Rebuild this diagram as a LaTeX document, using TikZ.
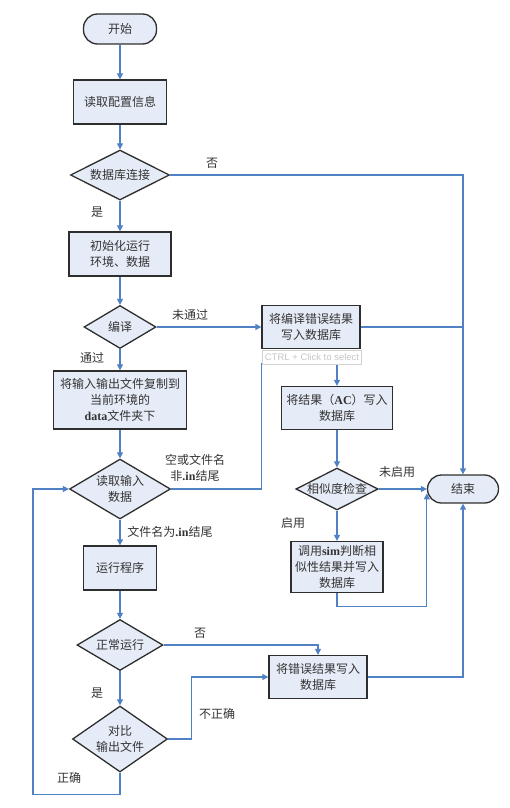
\documentclass[tikz,border=0pt]{standalone}
\usepackage{fontspec}
\setmainfont{Noto Sans CJK SC}
\newfontfamily\lat{Liberation Serif}
\newfontfamily\tipfont{Liberation Sans}
\usetikzlibrary{shapes.geometric,arrows.meta}
\definecolor{flow}{HTML}{4F81C4}
\definecolor{boxfill}{HTML}{E6ECF7}
\definecolor{boxline}{HTML}{2E2E2E}
\definecolor{txt}{HTML}{333333}

\begin{document}
\begin{tikzpicture}[x=1pt,y=-1pt,
  every node/.style={font=\fontsize{12}{16}\selectfont, text=txt},
  proc/.style={draw=boxline, line width=1.3pt, fill=boxfill, align=center, inner sep=0pt},
  term/.style={proc, rounded corners=14pt},
  choice/.style={draw=boxline, line width=1.3pt, fill=boxfill, diamond, aspect=2, inner sep=0pt, align=center},
  lbl/.style={inner sep=0pt, align=center},
  lnk/.style={draw=flow, line width=1.2pt},
  arr/.style={lnk, -{Triangle[length=6pt,width=6pt]}}]
\useasboundingbox (0,0) rectangle (510,808);

\node[term, minimum width=73pt, minimum height=30pt] (start) at (120,29) {开始};
\node[proc, minimum width=93pt, minimum height=44pt] (cfg) at (120,102) {读取配置信息};
\node[choice, minimum width=99pt, minimum height=50pt] (db) at (120,175) {数据库连接};
\node[proc, minimum width=102pt, minimum height=44pt] (init) at (120,254) {初始化运行\\环境、数据};
\node[choice, minimum width=72pt, minimum height=43pt] (comp) at (120,327) {编译};
\node[proc, minimum width=98pt, minimum height=43pt] (cerr) at (311,327) {将编译错误结果\\写入数据库};
\node[proc, minimum width=133pt, minimum height=58pt] (copy) at (120,400) {将输入输出文件复制到\\当前环境的\\{\lat\bfseries data}文件夹下};
\node[choice, aspect=1.7, minimum width=101pt, minimum height=60pt] (rd) at (120,489) {读取输入\\数据};
\node[proc, minimum width=73pt, minimum height=44pt] (run) at (120,568) {运行程序};
\node[choice, minimum width=86pt, minimum height=51pt] (ok) at (120,645) {正常运行};
\node[choice, aspect=1.44, minimum width=95pt, minimum height=66pt] (cmp) at (120,739) {对比\\输出文件};
\node[proc, minimum width=111pt, minimum height=43pt] (ac) at (337,408) {将结果（{\lat\bfseries AC}）写入\\数据库};
\node[choice, minimum width=82pt, minimum height=42pt] (simchk) at (337,489) {相似度检查};
\node[proc, minimum width=92pt, minimum height=51pt] (simw) at (337,567) {调用{\lat\bfseries sim}判断相\\似性结果并写入\\数据库};
\node[proc, minimum width=98pt, minimum height=43pt] (werr) at (318,677) {将错误结果写入\\数据库};
\node[term, minimum width=71pt, minimum height=28pt] (end) at (463,489) {结束};

\node[lbl] (dbno) at (212,163) {否};
\node[lbl] (dbyes) at (97,212) {是};
\node[lbl] (compno) at (190,315) {未通过};
\node[lbl] (compyes) at (92,358) {通过};
\node[lbl] (rdno) at (195,468) {空或文件名\\非{\lat\bfseries .in}结尾};
\node[lbl] (rdyes) at (170,532) {文件名为{\lat\bfseries .in}结尾};
\node[lbl] (simno) at (397,472) {未启用};
\node[lbl] (simyes) at (293,523) {启用};
\node[lbl] (okno) at (200,633) {否};
\node[lbl] (okyes) at (97,693) {是};
\node[lbl] (cmpno) at (217,714) {不正确};
\node[lbl] (cmpyes) at (69,778) {正确};

\draw[arr] (start) -- (cfg);
\draw[arr] (cfg) -- (db);
\draw[arr] (db) -- (init);
\draw[arr] (init) -- (comp);
\draw[arr] (comp) -- (copy);
\draw[arr] (copy) -- (rd);
\draw[arr] (rd) -- (run);
\draw[arr] (run) -- (ok);
\draw[arr] (ok) -- (cmp);
\draw[arr] (db.east) -| (end.north);
\draw[arr] (comp.east) -- (cerr.west);
\draw[lnk] (cerr.east) -- (cerr.east -| end.north);
\draw[arr] (rd.east) -- ++(90,0) |- ([yshift=22pt]ac.north) -- (ac.north);
\draw[arr] (ac) -- (simchk);
\draw[arr] (simchk.east) -- (end.west);
\draw[arr] (simchk) -- (simw);
\draw[arr] (simw.south) -- ++(0,13) -| (end.187);
\draw[arr] (ok.east) -| (werr.north);
\draw[arr] (cmp.east) -- ++(23,0) |- (werr.west);
\draw[arr] (werr.east) -| (end.south);
\draw[arr] (cmp.south) -- ++(0,22) -- ++(-87,0) |- (rd.west);

\node[draw=gray!35, fill=white, font=\tipfont\fontsize{9.5}{10}\selectfont, text=gray!45, minimum width=99pt, minimum height=14pt, inner sep=0pt] (tip) at (312,357) {CTRL + Click to select};
\end{tikzpicture}
\end{document}
